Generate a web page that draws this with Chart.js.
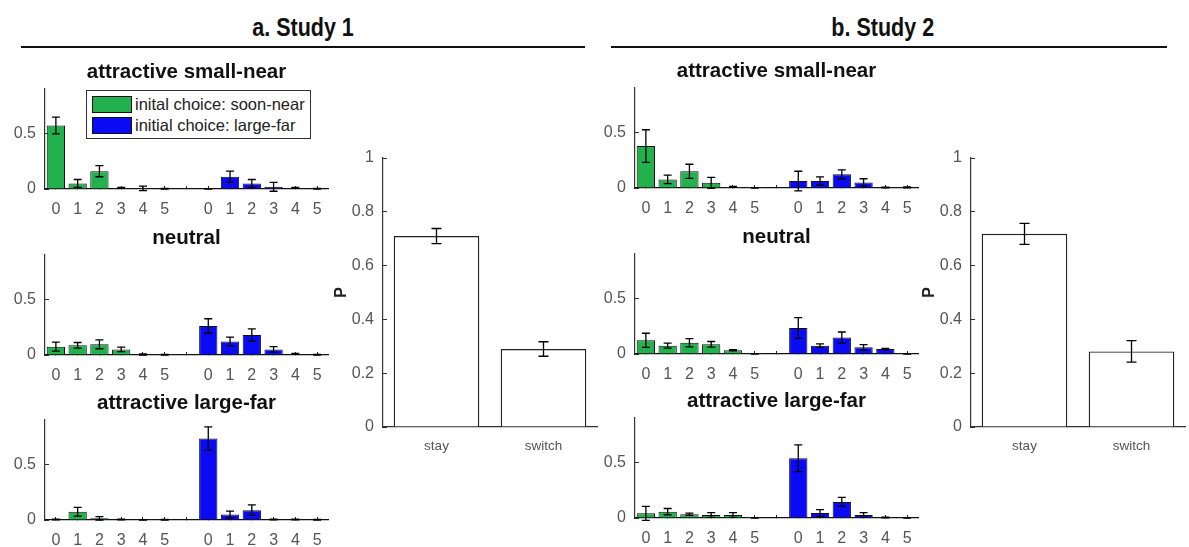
<!DOCTYPE html>
<html>
<head>
<meta charset="utf-8">
<script src="https://cdn.jsdelivr.net/npm/chart.js@4.4.0/dist/chart.umd.min.js"></script>
<style>
  body { margin: 0; background: #fff; }
  #fig { position: relative; width: 1189px; height: 547px; overflow: hidden; font-family: "Liberation Sans", Arial, sans-serif; }
  #fig canvas { position: absolute; }
  .head { position: absolute; top: 13px; font: bold 25px "Liberation Sans Narrow", "Liberation Sans", Arial, sans-serif; color: #111; text-align: center; }
  .head span { display: inline-block; transform: scaleX(0.86); }
  .rule { position: absolute; top: 46px; height: 2px; background: #111; }
  #legend { position: absolute; left: 86px; top: 90px; width: 225px; height: 49px; border: 1px solid #333; background: #fff; box-sizing: border-box; font-size: 16.5px; color: #222; }
  #legend div { position: absolute; left: 5px; height: 17px; line-height: 17px; white-space: nowrap; }
  #legend span { display: inline-block; width: 40px; height: 17px; border: 1px solid #111; box-sizing: border-box; vertical-align: top; margin-right: 3px; }
</style>
</head>
<body>
<div id="fig">
  <div class="head" style="left:21px;width:564px"><span>a. Study 1</span></div>
  <div class="rule" style="left:21px;width:564px"></div>
  <div class="head" style="left:605px;width:556px"><span>b. Study 2</span></div>
  <div class="rule" style="left:611px;width:556px"></div>

  <canvas id="s1a" width="373" height="157" style="left:0;top:60px"></canvas>
  <canvas id="s1b" width="373" height="157" style="left:0;top:226px"></canvas>
  <canvas id="s1c" width="373" height="157" style="left:0;top:391px"></canvas>
  <canvas id="s1p" width="273" height="311" style="left:328px;top:146px"></canvas>

  <canvas id="s2a" width="373" height="157" style="left:590px;top:59px"></canvas>
  <canvas id="s2b" width="373" height="157" style="left:590px;top:225px"></canvas>
  <canvas id="s2c" width="373" height="157" style="left:590px;top:389px"></canvas>
  <canvas id="s2p" width="273" height="311" style="left:916px;top:146px"></canvas>

  <div id="legend"></div>
</div>
<script>
// number of changes, green block then gap then blue block
const counts = ['0', '1', '2', '3', '4', '5', '', '0', '1', '2', '3', '4', '5'];
const choiceLabels = ['stay', 'switch'];
const greenLabel = 'inital choice: soon-near';
const blueLabel = 'initial choice: large-far';

// Study 1
const s1SmallNearGreen = [0.57, 0.05, 0.16, 0.01, 0.005, 0.003];
const s1SmallNearGreenErr = [0.075, 0.035, 0.05, 0.005, 0.02, 0.003];
const s1SmallNearBlue = [0.002, 0.11, 0.05, 0.02, 0.01, 0.003];
const s1SmallNearBlueErr = [0.002, 0.05, 0.035, 0.04, 0.005, 0.003];
const s1NeutralGreen = [0.075, 0.087, 0.096, 0.05, 0.005, 0.002];
const s1NeutralGreenErr = [0.04, 0.025, 0.04, 0.02, 0.005, 0.003];
const s1NeutralBlue = [0.26, 0.12, 0.18, 0.05, 0.01, 0.002];
const s1NeutralBlueErr = [0.065, 0.04, 0.055, 0.025, 0.005, 0.003];
const s1LargeFarGreen = [0.005, 0.074, 0.015, 0.005, 0.002, 0.002];
const s1LargeFarGreenErr = [0.003, 0.04, 0.015, 0.003, 0.002, 0.003];
const s1LargeFarBlue = [0.73, 0.05, 0.088, 0.005, 0.005, 0.002];
const s1LargeFarBlueErr = [0.105, 0.03, 0.047, 0.003, 0.003, 0.003];
const s1Choice = [0.71, 0.29];
const s1ChoiceErr = [0.028, 0.027];

// Study 2
const s2SmallNearGreen = [0.376, 0.077, 0.15, 0.046, 0.01, 0.001];
const s2SmallNearGreenErr = [0.146, 0.038, 0.063, 0.05, 0.005, 0.002];
const s2SmallNearBlue = [0.062, 0.062, 0.123, 0.05, 0.005, 0.005];
const s2SmallNearBlueErr = [0.088, 0.037, 0.04, 0.033, 0.003, 0.004];
const s2NeutralGreen = [0.123, 0.075, 0.1, 0.087, 0.033, 0.001];
const s2NeutralGreenErr = [0.063, 0.022, 0.037, 0.025, 0.005, 0.003];
const s2NeutralBlue = [0.233, 0.075, 0.147, 0.06, 0.045, 0.001];
const s2NeutralBlueErr = [0.093, 0.015, 0.05, 0.024, 0.005, 0.003];
const s2LargeFarGreen = [0.042, 0.057, 0.033, 0.027, 0.027, 0.001];
const s2LargeFarGreenErr = [0.063, 0.028, 0.01, 0.022, 0.022, 0.002];
const s2LargeFarBlue = [0.536, 0.045, 0.144, 0.027, 0.005, 0.001];
const s2LargeFarBlueErr = [0.12, 0.03, 0.04, 0.022, 0.003, 0.003];
const s2Choice = [0.718, 0.281];
const s2ChoiceErr = [0.039, 0.04];

const GREEN = '#22b14c';
const BLUE = '#0a0af5';
const FONT = '"Liberation Sans", Arial, sans-serif';
const GREY = '#555';

const errorBars = {
  id: 'errorBars',
  afterDatasetsDraw(chart) {
    const ctx = chart.ctx;
    const y = chart.scales.y;
    chart.data.datasets.forEach((ds, i) => {
      if (!ds.errors) return;
      const meta = chart.getDatasetMeta(i);
      ctx.save();
      ctx.strokeStyle = '#000';
      ctx.lineWidth = 1.3;
      meta.data.forEach((bar, j) => {
        const v = ds.data[j], e = ds.errors[j];
        if (v == null || e == null) return;
        const hi = y.getPixelForValue(v + e);
        const lo = y.getPixelForValue(v - e);
        const w = ds.capWidth;
        ctx.beginPath();
        ctx.moveTo(bar.x, hi); ctx.lineTo(bar.x, lo);
        ctx.moveTo(bar.x - w, hi); ctx.lineTo(bar.x + w, hi);
        ctx.moveTo(bar.x - w, lo); ctx.lineTo(bar.x + w, lo);
        ctx.stroke();
      });
      ctx.restore();
    });
  }
};

// fixed axis width, and no extra room for the end labels
function fixWidth(w) {
  return s => { s.width = w; s.paddingTop = 0; s.paddingBottom = 0; };
}

const pad7 = Array(7).fill(null);

function countsChart(id, title, green, greenErr, blue, blueErr) {
  return new Chart(document.getElementById(id), {
    type: 'bar',
    data: {
      labels: counts,
      datasets: [
        { label: greenLabel, data: green.concat(pad7), errors: greenErr.concat(pad7),
          backgroundColor: GREEN, borderColor: '#111', borderWidth: 1, capWidth: 4 },
        { label: blueLabel, data: pad7.concat(blue), errors: pad7.concat(blueErr),
          backgroundColor: BLUE, borderColor: '#111', borderWidth: 1, capWidth: 4 }
      ]
    },
    options: {
      responsive: false,
      animation: false,
      devicePixelRatio: 1,
      layout: { padding: 0 },
      datasets: { bar: { grouped: false, barPercentage: 0.84, categoryPercentage: 1 } },
      plugins: {
        legend: { display: false },
        tooltip: { enabled: false },
        title: { display: true, text: title, color: '#111',
          font: { family: FONT, size: 20.5, weight: 'bold' }, padding: { top: 0, bottom: 4 } }
      },
      scales: {
        x: {
          offset: true,
          grid: { drawOnChartArea: false, drawTicks: true, tickLength: -3, color: '#222', offset: false },
          border: { color: '#111', width: 1.3 },
          ticks: { color: GREY, font: { family: FONT, size: 16 }, padding: 14, autoSkip: false, maxRotation: 0 },
          afterFit: s => { s.height = 28; }
        },
        y: {
          min: 0, max: 0.9,
          grid: { drawOnChartArea: false, drawTicks: true, tickLength: -4, color: '#333' },
          border: { color: '#333', width: 1.2 },
          ticks: { color: GREY, font: { family: FONT, size: 16 }, padding: 13 },
          afterBuildTicks: s => { s.ticks = [{ value: 0 }, { value: 0.5 }]; },
          afterFit: fixWidth(45)
        },
        // empty right-hand axis so the title centres over the plot
        yPad: {
          position: 'right',
          grid: { display: false },
          border: { display: false },
          ticks: { display: false },
          afterFit: fixWidth(45)
        }
      }
    },
    plugins: [errorBars]
  });
}

function choiceChart(id, values, errs) {
  return new Chart(document.getElementById(id), {
    type: 'bar',
    data: {
      labels: choiceLabels,
      datasets: [{ data: values, errors: errs, backgroundColor: '#fff', borderColor: '#222',
        borderWidth: 1.4, capWidth: 5, barPercentage: 0.8, categoryPercentage: 1 }]
    },
    options: {
      responsive: false,
      animation: false,
      devicePixelRatio: 1,
      layout: { padding: { left: 0, right: 4, top: 12, bottom: 0 } },
      plugins: { legend: { display: false }, tooltip: { enabled: false } },
      scales: {
        x: {
          offset: true,
          grid: { drawOnChartArea: false, drawTicks: false },
          border: { color: '#333', width: 1.2 },
          ticks: { color: GREY, font: { family: FONT, size: 13.5 }, padding: 11 },
          afterFit: s => { s.height = 30; }
        },
        y: {
          min: 0, max: 1,
          grid: { drawOnChartArea: false, drawTicks: true, tickLength: -4, color: '#333' },
          border: { color: '#333', width: 1.2 },
          ticks: { stepSize: 0.2, color: GREY, font: { family: FONT, size: 16 }, padding: 13,
            callback: v => String(+v.toFixed(1)) },
          title: { display: true, text: 'P', color: '#222', font: { family: FONT, size: 16, weight: 'bold' },
            padding: { top: 4, bottom: 0 } },
          afterFit: fixWidth(55)
        }
      }
    },
    plugins: [errorBars]
  });
}

const first = countsChart('s1a', 'attractive small-near', s1SmallNearGreen, s1SmallNearGreenErr, s1SmallNearBlue, s1SmallNearBlueErr);
countsChart('s1b', 'neutral', s1NeutralGreen, s1NeutralGreenErr, s1NeutralBlue, s1NeutralBlueErr);
countsChart('s1c', 'attractive large-far', s1LargeFarGreen, s1LargeFarGreenErr, s1LargeFarBlue, s1LargeFarBlueErr);
choiceChart('s1p', s1Choice, s1ChoiceErr);

countsChart('s2a', 'attractive small-near', s2SmallNearGreen, s2SmallNearGreenErr, s2SmallNearBlue, s2SmallNearBlueErr);
countsChart('s2b', 'neutral', s2NeutralGreen, s2NeutralGreenErr, s2NeutralBlue, s2NeutralBlueErr);
countsChart('s2c', 'attractive large-far', s2LargeFarGreen, s2LargeFarGreenErr, s2LargeFarBlue, s2LargeFarBlueErr);
choiceChart('s2p', s2Choice, s2ChoiceErr);

// legend built from the first chart's datasets
const legend = document.getElementById('legend');
first.data.datasets.forEach((ds, i) => {
  const row = document.createElement('div');
  row.style.top = (i === 0 ? 5 : 26) + 'px';
  const sw = document.createElement('span');
  sw.style.background = ds.backgroundColor;
  row.appendChild(sw);
  row.appendChild(document.createTextNode(ds.label));
  legend.appendChild(row);
});
</script>
</body>
</html>
